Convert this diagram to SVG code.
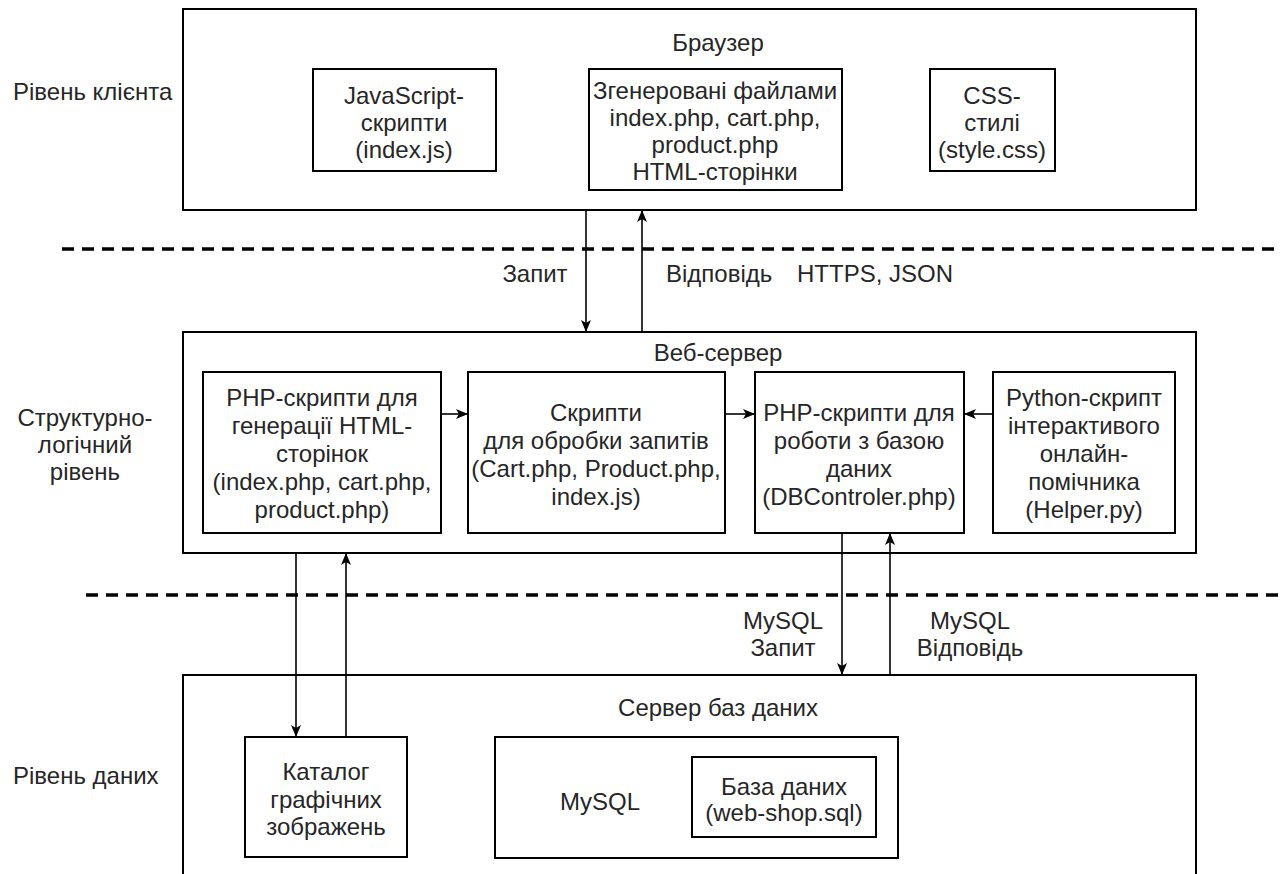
<svg xmlns="http://www.w3.org/2000/svg" width="1282" height="874" viewBox="0 0 1282 874">
<defs>
<marker id="arr" markerWidth="12" markerHeight="10" refX="11" refY="5" orient="auto" markerUnits="userSpaceOnUse">
<path d="M0,0 L12,5 L0,10 L3,5 z" fill="#000"/>
</marker>
<style>
.box{fill:#fff;stroke:#000;stroke-width:2}
.t{font-family:"Liberation Sans",Arial,sans-serif;font-size:24px;fill:#262626;text-anchor:middle}
.l{font-family:"Liberation Sans",Arial,sans-serif;font-size:24px;fill:#262626}
.c{fill:none;stroke:#000;stroke-width:1.6}
.dash{fill:none;stroke:#000;stroke-width:3.5;stroke-dasharray:12 8}
</style>
</defs>
<rect width="1282" height="874" fill="#fff"/>

<g id="levels">
<text class="l" x="13" y="100">Рівень клієнта</text>
<text class="t" x="85" y="426">Структурно-</text>
<text class="t" x="85" y="453">логічний</text>
<text class="t" x="85" y="480">рівень</text>
<text class="l" x="13" y="784">Рівень даних</text>
</g>

<g id="separators">
<line class="dash" x1="62" y1="249" x2="1282" y2="249"/>
<line class="dash" x1="86" y1="595" x2="1282" y2="595"/>
</g>

<g id="browser">
<rect class="box" x="183" y="9" width="1013" height="201"/>
<text class="t" x="718" y="51">Браузер</text>
</g>
<g id="js">
<rect class="box" x="313" y="69" width="183" height="102"/>
<text class="t" x="404" y="104">JavaScript-</text>
<text class="t" x="404" y="131">скрипти</text>
<text class="t" x="404" y="158">(index.js)</text>
</g>
<g id="html">
<rect class="box" x="589" y="69" width="253" height="121"/>
<text class="t" x="715" y="99">Згенеровані файлами</text>
<text class="t" x="715" y="126">index.php, cart.php,</text>
<text class="t" x="715" y="153">product.php</text>
<text class="t" x="715" y="180">HTML-сторінки</text>
</g>
<g id="css">
<rect class="box" x="930" y="69" width="125" height="102"/>
<text class="t" x="992" y="104">CSS-</text>
<text class="t" x="992" y="131">стилі</text>
<text class="t" x="992" y="158">(style.css)</text>
</g>

<g id="webserver">
<rect class="box" x="183" y="332" width="1013" height="221"/>
<text class="t" x="718" y="361">Веб-сервер</text>
</g>
<g id="phpgen">
<rect class="box" x="203" y="372" width="238" height="161"/>
<text class="t" x="322" y="406">PHP-скрипти для</text>
<text class="t" x="322" y="434">генерації HTML-</text>
<text class="t" x="322" y="462">сторінок</text>
<text class="t" x="322" y="490">(index.php, cart.php,</text>
<text class="t" x="322" y="518">product.php)</text>
</g>
<g id="scripts">
<rect class="box" x="468" y="372" width="257" height="161"/>
<text class="t" x="596" y="421">Скрипти</text>
<text class="t" x="596" y="449">для обробки запитів</text>
<text class="t" x="596" y="477">(Cart.php, Product.php,</text>
<text class="t" x="596" y="505">index.js)</text>
</g>
<g id="dbphp">
<rect class="box" x="755" y="372" width="209" height="161"/>
<text class="t" x="859" y="421">PHP-скрипти для</text>
<text class="t" x="859" y="449">роботи з базою</text>
<text class="t" x="859" y="477">даних</text>
<text class="t" x="859" y="505">(DBControler.php)</text>
</g>
<g id="python">
<rect class="box" x="993" y="372" width="182" height="161"/>
<text class="t" x="1084" y="406">Python-скрипт</text>
<text class="t" x="1084" y="434">інтерактивого</text>
<text class="t" x="1084" y="462">онлайн-</text>
<text class="t" x="1084" y="490">помічника</text>
<text class="t" x="1084" y="518">(Helper.py)</text>
</g>

<g id="dbserver">
<rect class="box" x="183" y="675" width="1013" height="220"/>
<text class="t" x="718" y="716">Сервер баз даних</text>
</g>
<g id="catalog">
<rect class="box" x="245" y="737" width="162" height="120"/>
<text class="t" x="326" y="780">Каталог</text>
<text class="t" x="326" y="808">графічних</text>
<text class="t" x="326" y="835">зображень</text>
</g>
<g id="mysql">
<rect class="box" x="495" y="737" width="403" height="121"/>
<text class="t" x="600" y="810">MySQL</text>
</g>
<g id="database">
<rect class="box" x="692" y="757" width="184" height="80"/>
<text class="t" x="784" y="795">База даних</text>
<text class="t" x="784" y="821">(web-shop.sql)</text>
</g>

<g id="connectors">
<line class="c" x1="586" y1="210" x2="586" y2="331" marker-end="url(#arr)"/>
<line class="c" x1="642" y1="332" x2="642" y2="211" marker-end="url(#arr)"/>
<line class="c" x1="441" y1="414" x2="467" y2="414" marker-end="url(#arr)"/>
<line class="c" x1="725" y1="414" x2="754" y2="414" marker-end="url(#arr)"/>
<line class="c" x1="993" y1="414" x2="965" y2="414" marker-end="url(#arr)"/>
<line class="c" x1="296" y1="553" x2="296" y2="736" marker-end="url(#arr)"/>
<line class="c" x1="346" y1="737" x2="346" y2="554" marker-end="url(#arr)"/>
<line class="c" x1="842" y1="533" x2="842" y2="674" marker-end="url(#arr)"/>
<line class="c" x1="890" y1="675" x2="890" y2="534" marker-end="url(#arr)"/>
<text class="t" x="535" y="282">Запит</text>
<text class="l" x="666" y="282">Відповідь</text>
<text class="l" x="797" y="282">HTTPS, JSON</text>
<text class="t" x="783" y="629">MySQL</text>
<text class="t" x="783" y="656">Запит</text>
<text class="t" x="970" y="629">MySQL</text>
<text class="t" x="970" y="656">Відповідь</text>
</g>
</svg>
